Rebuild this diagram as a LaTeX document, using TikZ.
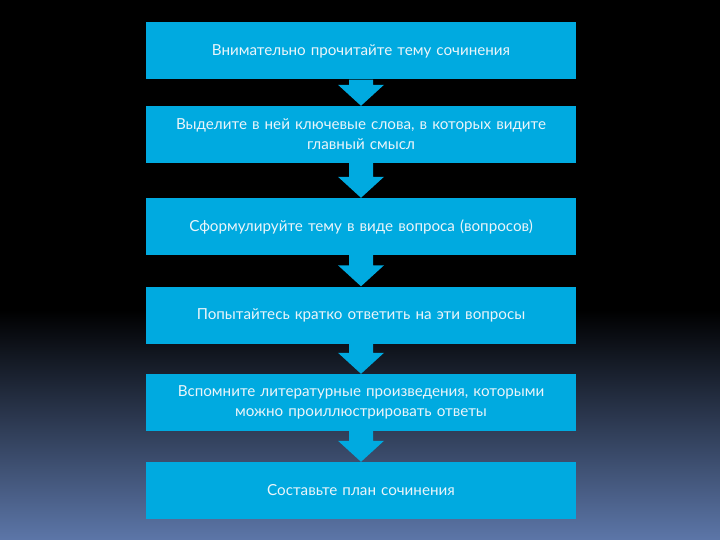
\documentclass[tikz,border=0pt]{standalone}
\usepackage{fontspec}
\setmainfont{Lato}
\usetikzlibrary{calc}
\definecolor{boxcyan}{RGB}{0,170,224}
\definecolor{bgbottom}{RGB}{92,118,168}
\definecolor{txt}{RGB}{235,245,250}
\begin{document}
\begin{tikzpicture}[x=1pt,y=-1pt,
  stepbox/.style={fill=boxcyan, minimum width=430pt, minimum height=57pt, inner sep=0pt,
    text=txt, align=center, text width=420pt, font=\fontsize{15.2}{20}\selectfont},
  blockarrow/.style={fill=boxcyan}]
\useasboundingbox (0,0) rectangle (720,540);
\fill[black] (0,0) rectangle (720,311);
\shade[top color=black, bottom color=bgbottom] (0,310) rectangle (720,540);
\node[stepbox] (b1) at (361,51) {Внимательно прочитайте тему сочинения};
\node[stepbox] (b2) at (361,134.5) {Выделите в ней ключевые слова, в которых видите\\главный смысл};
\node[stepbox] (b3) at (361,226.5) {Сформулируйте тему в виде вопроса (вопросов)};
\node[stepbox] (b4) at (361,315) {Попытайтесь кратко ответить на эти вопросы};
\node[stepbox] (b5) at (361,402.5) {Вспомните литературные произведения, которыми\\можно проиллюстрировать ответы};
\node[stepbox] (b6) at (361,490.5) {Составьте план сочинения};
\foreach \a/\b in {b1/b2,b2/b3,b3/b4,b4/b5,b5/b6}{
  \fill[blockarrow] ($(\a.south)+(-12,0)$) -- ($(\a.south)+(12,0)$)
    -- ($(\b.north)+(12,-21)$) -- ($(\b.north)+(23,-21)$) -- (\b.north)
    -- ($(\b.north)+(-23,-21)$) -- ($(\b.north)+(-12,-21)$) -- cycle;
}
\end{tikzpicture}
\end{document}
